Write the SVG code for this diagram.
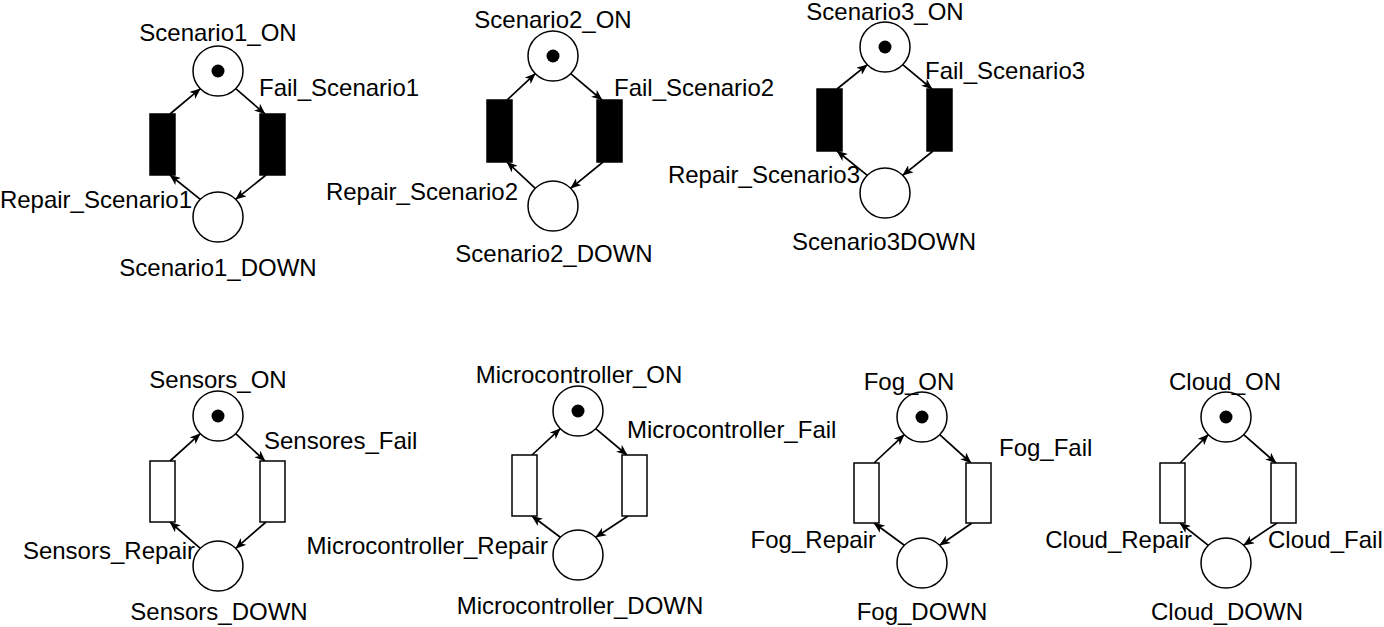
<svg xmlns="http://www.w3.org/2000/svg" width="1384" height="627" viewBox="0 0 1384 627">
<defs>
<style>
text{font-family:"Liberation Sans",Arial,sans-serif;font-size:24px;fill:#000}
.m{text-anchor:middle}.e{text-anchor:end}
.p{fill:#fff;stroke:#000;stroke-width:1.5}
.t{fill:#000}
.tb{fill:#000;stroke:#000;stroke-width:1.5}
.tw{fill:#fff;stroke:#000;stroke-width:1.5}
.a{fill:none;stroke:#000;stroke-width:1.7;marker-end:url(#ah)}
</style>
<marker id="ah" viewBox="0 0 11 9" refX="10.5" refY="4.5" markerWidth="11" markerHeight="9" markerUnits="userSpaceOnUse" orient="auto"><path d="M0,0 L11,4.5 L0,9 L3,4.5 z" fill="#000"/></marker>
</defs>
<rect width="1384" height="627" fill="#fff"/>
<g id="connectors">
<path class="a" d="M170,114 L200.3,88.7"/><path class="a" d="M235.7,88.7 L265,114"/><path class="a" d="M266,175 L235.7,199.3"/><path class="a" d="M200.3,199.3 L170,175"/>
<path class="a" d="M507,100 L535.3,73.7"/><path class="a" d="M570.7,73.7 L602,100"/><path class="a" d="M603,162 L570.7,188.3"/><path class="a" d="M535.3,188.3 L507,162"/>
<path class="a" d="M837,89 L867.3,64.7"/><path class="a" d="M902.7,64.7 L932,89"/><path class="a" d="M933,151 L902.7,175.3"/><path class="a" d="M867.3,175.3 L837,151"/>
<path class="a" d="M170,461 L200.3,433.7"/><path class="a" d="M235.7,433.7 L265,461"/><path class="a" d="M266,522 L235.7,548.3"/><path class="a" d="M200.3,548.3 L170,522"/>
<path class="a" d="M532,455 L560.3,428.7"/><path class="a" d="M595.7,428.7 L627,455"/><path class="a" d="M628,516 L595.7,537.3"/><path class="a" d="M560.3,537.3 L532,516"/>
<path class="a" d="M874,463 L904.3,434.7"/><path class="a" d="M939.7,434.7 L971,463"/><path class="a" d="M972,523 L939.7,545.3"/><path class="a" d="M904.3,545.3 L874,523"/>
<path class="a" d="M1180,463 L1208.3,434.7"/><path class="a" d="M1243.7,434.7 L1276,463"/><path class="a" d="M1277,523 L1243.7,545.3"/><path class="a" d="M1208.3,545.3 L1180,523"/>
</g>
<g id="scenario1_on"><circle class="p" cx="218" cy="71" r="25"/><circle class="t" cx="218" cy="71" r="6.5"/><text class="m" x="218" y="41">Scenario1_ON</text></g>
<g id="scenario1_down"><circle class="p" cx="218" cy="217" r="25"/><text class="m" x="218" y="276">Scenario1_DOWN</text></g>
<g id="repair_scenario1"><rect class="tb" x="150" y="114" width="25" height="61"/><text class="e" x="192" y="208">Repair_Scenario1</text></g>
<g id="fail_scenario1"><rect class="tb" x="260" y="114" width="25" height="61"/><text x="259" y="96">Fail_Scenario1</text></g>

<g id="scenario2_on"><circle class="p" cx="553" cy="56" r="25"/><circle class="t" cx="553" cy="56" r="6.5"/><text class="m" x="553" y="28">Scenario2_ON</text></g>
<g id="scenario2_down"><circle class="p" cx="553" cy="206" r="25"/><text class="m" x="554" y="262">Scenario2_DOWN</text></g>
<g id="repair_scenario2"><rect class="tb" x="487" y="100" width="25" height="62"/><text class="e" x="518" y="200">Repair_Scenario2</text></g>
<g id="fail_scenario2"><rect class="tb" x="597" y="100" width="25" height="62"/><text x="614" y="96">Fail_Scenario2</text></g>

<g id="scenario3_on"><circle class="p" cx="885" cy="47" r="25"/><circle class="t" cx="885" cy="47" r="6.5"/><text class="m" x="885" y="20">Scenario3_ON</text></g>
<g id="scenario3_down"><circle class="p" cx="885" cy="193" r="25"/><text class="m" x="884" y="250">Scenario3DOWN</text></g>
<g id="repair_scenario3"><rect class="tb" x="817" y="89" width="25" height="62"/><text class="e" x="860" y="183">Repair_Scenario3</text></g>
<g id="fail_scenario3"><rect class="tb" x="927" y="89" width="25" height="62"/><text x="925" y="79">Fail_Scenario3</text></g>

<g id="sensors_on"><circle class="p" cx="218" cy="416" r="25"/><circle class="t" cx="218" cy="416" r="6.5"/><text class="m" x="218" y="388">Sensors_ON</text></g>
<g id="sensors_down"><circle class="p" cx="218" cy="566" r="25"/><text class="m" x="219" y="620">Sensors_DOWN</text></g>
<g id="sensors_repair"><rect class="tw" x="150" y="461" width="25" height="61"/><text class="e" x="195" y="559">Sensors_Repair</text></g>
<g id="sensores_fail"><rect class="tw" x="260" y="461" width="25" height="61"/><text x="264" y="449">Sensores_Fail</text></g>

<g id="microcontroller_on"><circle class="p" cx="578" cy="411" r="25"/><circle class="t" cx="578" cy="411" r="6.5"/><text class="m" x="579" y="383">Microcontroller_ON</text></g>
<g id="microcontroller_down"><circle class="p" cx="578" cy="555" r="25"/><text class="m" x="580" y="614">Microcontroller_DOWN</text></g>
<g id="microcontroller_repair"><rect class="tw" x="512" y="455" width="25" height="61"/><text class="e" x="548" y="554">Microcontroller_Repair</text></g>
<g id="microcontroller_fail"><rect class="tw" x="622" y="455" width="25" height="61"/><text x="627" y="438">Microcontroller_Fail</text></g>

<g id="fog_on"><circle class="p" cx="922" cy="417" r="25"/><circle class="t" cx="922" cy="417" r="6.5"/><text class="m" x="909" y="390">Fog_ON</text></g>
<g id="fog_down"><circle class="p" cx="922" cy="563" r="25"/><text class="m" x="922" y="620">Fog_DOWN</text></g>
<g id="fog_repair"><rect class="tw" x="854" y="463" width="25" height="60"/><text class="e" x="876" y="548">Fog_Repair</text></g>
<g id="fog_fail"><rect class="tw" x="966" y="463" width="25" height="60"/><text x="999" y="456">Fog_Fail</text></g>

<g id="cloud_on"><circle class="p" cx="1226" cy="417" r="25"/><circle class="t" cx="1226" cy="417" r="6.5"/><text class="m" x="1225" y="390">Cloud_ON</text></g>
<g id="cloud_down"><circle class="p" cx="1226" cy="563" r="25"/><text class="m" x="1227" y="620">Cloud_DOWN</text></g>
<g id="cloud_repair"><rect class="tw" x="1160" y="463" width="25" height="60"/><text class="e" x="1192" y="548">Cloud_Repair</text></g>
<g id="cloud_fail"><rect class="tw" x="1271" y="463" width="25" height="60"/><text x="1268" y="548">Cloud_Fail</text></g>
</svg>
